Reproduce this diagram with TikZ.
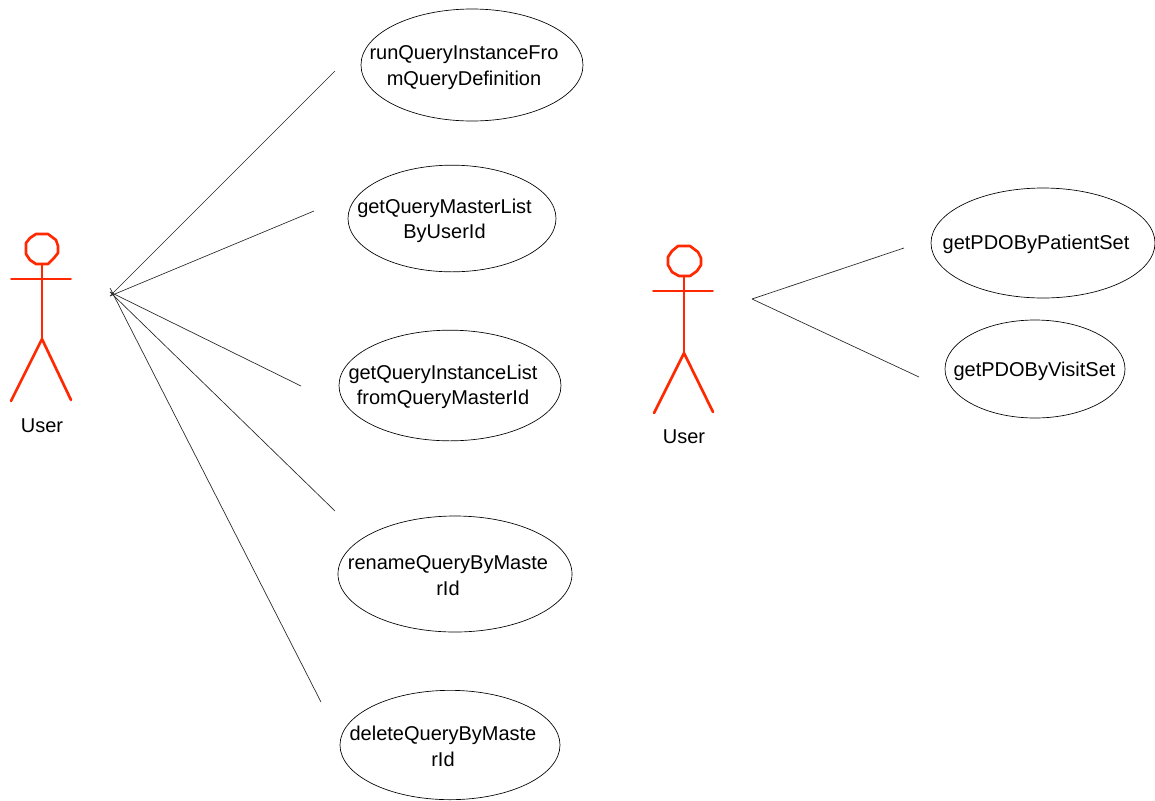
\documentclass[tikz,border=0pt]{standalone}
\usepackage{fontspec}
\setmainfont{Liberation Sans}
\usetikzlibrary{shapes.geometric}
\definecolor{actorred}{RGB}{255,40,0}
\tikzset{
  x=0.75pt,y=-0.75pt,
  usecase/.style={draw=black,line width=0.5pt,ellipse,inner sep=0pt,outer sep=0pt},
  uclabel/.style={align=center,font=\fontsize{15}{19}\selectfont,inner sep=0pt,text=black},
  actorlabel/.style={font=\fontsize{15}{18}\selectfont,inner sep=0pt,text=black},
  assoc/.style={draw=black!85,line width=0.5pt},
  actorline/.style={draw=actorred,line width=2pt,line cap=round,line join=round},
  actorthin/.style={draw=actorred,line width=1.4pt,line cap=round}
}
\begin{document}
\begin{tikzpicture}
\useasboundingbox (0,0) rectangle (1155,800);

% use cases
\node[usecase,minimum width=166.5pt,minimum height=84pt] (uc1) at (472,65) {};
\node[usecase,minimum width=156pt,minimum height=80pt] (uc2) at (452,218.5) {};
\node[usecase,minimum width=166.5pt,minimum height=83pt] (uc3) at (450,385.5) {};
\node[usecase,minimum width=175.5pt,minimum height=87pt] (uc4) at (455,574) {};
\node[usecase,minimum width=165pt,minimum height=82pt] (uc5) at (450,745) {};
\node[usecase,minimum width=168pt,minimum height=82.5pt] (uc6) at (1043,243) {};
\node[usecase,minimum width=135pt,minimum height=73.5pt] (uc7) at (1035,369) {};

\node[uclabel] (t1) at (464,67.5) {runQueryInstanceFro\\mQueryDefinition};
\node[uclabel] (t2) at (444.5,220.5) {getQueryMasterList\\ByUserId};
\node[uclabel] (t3) at (443,387) {getQueryInstanceList\\fromQueryMasterId};
\node[uclabel] (t4) at (448,575.5) {renameQueryByMaste\\rId};
\node[uclabel] (t5) at (443,746.5) {deleteQueryByMaste\\rId};
\node[uclabel] (t6) at (1036,244) {getPDOByPatientSet};
\node[uclabel] (t7) at (1034.5,371) {getPDOByVisitSet};

% connector ends
\coordinate (hubA) at (110,296);
\coordinate (hubB) at (110,288);
\coordinate (hubC) at (110,292);
\coordinate (hubR) at (752,299);
\coordinate (e1) at (335,71);
\coordinate (e2) at (314,211);
\coordinate (e3) at (301,386);
\coordinate (e4) at (335,511);
\coordinate (e5) at (321,702);
\coordinate (e6) at (904,248);
\coordinate (e7) at (919,377);

\draw[assoc] (hubA) -- (e1);
\draw[assoc] (hubA) -- (e2);
\draw[assoc] (hubC) -- (e3);
\draw[assoc] (hubC) -- (e4);
\draw[assoc] (hubB) -- (e5);
\draw[assoc] (hubR) -- (e6);
\draw[assoc] (hubR) -- (e7);

% left actor
\draw[actorline] (36,234) -- (48,234) -- (56,240) -- (58,246) -- (58,253) -- (54,258) -- (48,264) -- (36,264) -- (30,260) -- (26,254) -- (26,243) -- (30,238) -- cycle;
\draw[actorline] (42,264) -- (42,339);
\draw[actorthin] (11,279) -- (71,279);
\draw[actorline] (11,401) -- (42,339) -- (71,400);
\node[actorlabel] (u1) at (42,425.5) {User};

% right actor
\draw[actorline] (678,246) -- (690,246) -- (698,252) -- (701,258) -- (701,265) -- (697,271) -- (690,276) -- (679,276) -- (672,272) -- (668,265) -- (668,257) -- (672,251) -- cycle;
\draw[actorline] (684,276) -- (684,353);
\draw[actorthin] (653,291) -- (713,291);
\draw[actorline] (654,413) -- (684,353) -- (713,412);
\node[actorlabel] (u2) at (684,436.5) {User};
\end{tikzpicture}
\end{document}
